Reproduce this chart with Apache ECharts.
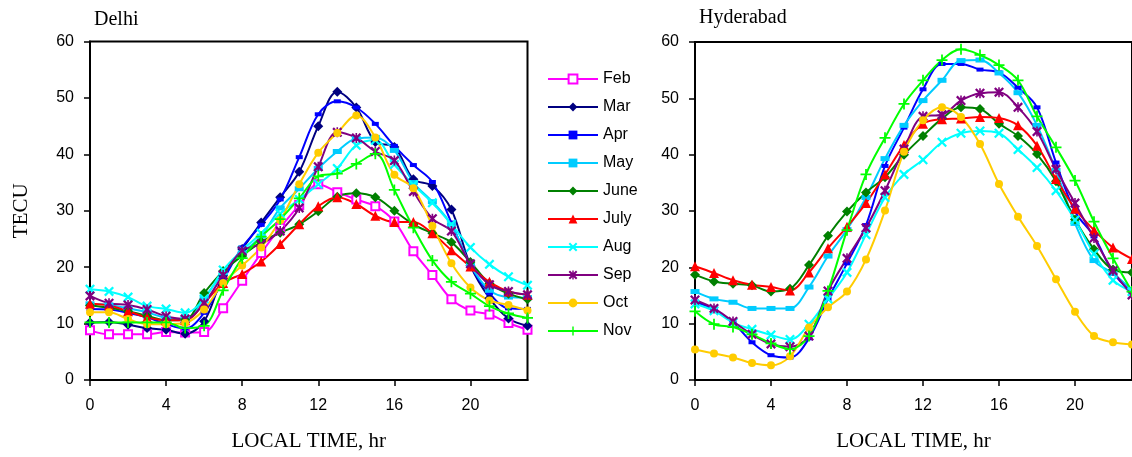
<!DOCTYPE html>
<html><head><meta charset="utf-8">
<script src="https://cdn.jsdelivr.net/npm/echarts@6/dist/echarts.min.js"></script>
<style>html,body{margin:0;padding:0;background:#fff}#c{width:1132px;height:457px}</style>
</head><body><div id="c"></div>
<script>
const hours = [0,1,2,3,4,5,6,7,8,9,10,11,12,13,14,15,16,17,18,19,20,21,22,23];
const months = ['Feb','Mar','Apr','May','June','July','Aug','Sep','Oct','Nov'];
const yTicks = [0,10,20,30,40,50,60];
const xTicks = [0,4,8,12,16,20];

// Delhi (TECU by local hour)
const delhiFeb  = [8.8,8.1,8.1,8.1,8.5,8.4,8.5,12.7,17.6,22.5,27.0,31.0,34.7,33.3,32.0,30.8,28.1,22.8,18.6,14.3,12.3,11.6,10.1,8.9];
const delhiMar  = [10.2,10.3,9.8,9.2,8.9,8.2,10.4,18.5,23.2,27.9,32.4,36.9,45.0,51.1,48.3,42.2,41.3,35.6,34.4,30.2,20.3,14.5,10.9,9.6];
const delhiApr  = [12.6,12.5,11.9,11.1,9.9,9.1,11.9,17.7,23.5,27.5,32.0,39.5,47.1,49.4,48.3,45.4,41.5,38.1,35.1,27.9,20.3,15.4,12.7,12.6];
const delhiMay  = [13.5,13.3,12.7,12.0,11.0,10.8,14.5,19.0,22.5,25.5,30.5,33.9,37.5,40.5,42.8,43.0,40.7,35.0,31.6,27.5,20.4,15.9,14.7,14.6];
const delhiJune = [13.2,12.8,12.2,11.4,10.6,10.7,15.4,19.3,22.0,24.5,26.1,27.6,29.9,32.5,33.1,32.4,30.0,27.6,26.0,24.4,20.9,17.1,15.3,14.3];
const delhiJuly = [13.5,13.2,12.2,11.1,10.6,10.6,13.6,17.2,18.8,21.0,24.1,27.6,30.8,32.4,31.2,29.1,28.0,28.0,26.0,23.0,20.1,17.4,15.7,15.1];
const delhiAug  = [16.1,15.7,14.7,13.1,12.6,11.9,14.4,19.5,23.0,26.0,29.5,32.0,34.7,37.5,41.6,42.5,38.2,34.6,31.4,27.6,23.5,20.5,18.3,16.8];
const delhiSep  = [14.9,13.6,13.3,12.5,11.3,10.8,13.6,18.6,22.9,24.1,26.4,30.5,37.8,43.9,42.9,40.5,38.9,33.4,28.6,26.4,20.6,16.9,15.7,15.1];
const delhiOct  = [12.0,12.0,10.8,9.9,9.9,10.1,12.5,17.2,20.3,23.5,28.3,34.7,40.3,43.8,46.9,43.0,36.4,34.0,27.3,20.7,16.4,14.1,13.3,12.3];
const delhiNov  = [10.2,10.2,10.2,10.2,10.2,9.2,9.6,15.9,21.6,25.4,28.5,32.2,36.1,36.6,38.3,40.1,33.7,27.0,21.2,17.4,15.3,13.1,11.8,11.0];

// Hyderabad (TECU by local hour)
const hydApr  = [13.9,12.5,10.2,6.7,4.4,4.0,7.4,14.4,20.7,27.5,38.0,44.8,51.6,56.1,56.1,55.1,54.6,51.9,48.4,38.6,29.9,25.5,19.1,15.5];
const hydMay  = [15.7,14.4,13.8,12.7,12.7,12.7,16.5,22.0,26.7,32.4,39.3,45.2,49.6,53.2,56.7,56.8,54.5,51.0,45.2,37.2,27.8,21.2,18.9,16.0];
const hydJune = [18.7,17.5,17.1,16.8,15.7,16.2,20.4,25.6,29.9,33.3,36.0,40.0,43.3,46.4,48.4,48.1,45.5,43.3,40.1,35.3,28.5,23.2,19.6,19.1];
const hydJuly = [20.2,19.0,17.7,16.9,16.5,15.9,19.1,23.4,27.2,31.4,36.5,41.7,45.5,46.3,46.4,46.7,46.5,45.2,41.6,35.7,30.4,26.6,23.5,21.5];
const hydAug  = [13.5,12.3,10.2,9.0,8.0,7.2,9.9,14.4,19.1,25.8,32.4,36.5,39.1,42.2,43.8,44.2,43.8,40.9,37.7,33.6,28.4,22.4,17.7,15.7];
const hydSep  = [14.2,12.7,10.4,8.1,6.4,5.9,7.8,15.8,21.6,27.0,33.6,41.0,46.8,47.1,49.6,50.9,51.1,48.4,44.1,37.4,31.4,25.2,19.4,15.1];
const hydOct  = [5.4,4.7,4.0,3.0,2.6,4.2,9.3,12.9,15.7,21.4,30.1,40.5,46.1,48.4,46.7,41.9,34.8,29.0,23.8,17.9,12.1,7.8,6.7,6.3];
const hydNov  = [12.2,9.9,9.4,8.1,6.5,5.5,7.8,15.8,26.6,36.5,43.0,49.0,53.2,56.8,58.7,57.7,55.9,53.2,46.8,41.3,35.4,28.1,21.6,15.7];

const delhiSeries = {Feb:delhiFeb, Mar:delhiMar, Apr:delhiApr, May:delhiMay, June:delhiJune, July:delhiJuly, Aug:delhiAug, Sep:delhiSep, Oct:delhiOct, Nov:delhiNov};
const hydSeries = {Apr:hydApr, May:hydMay, June:hydJune, July:hydJuly, Aug:hydAug, Sep:hydSep, Oct:hydOct, Nov:hydNov};

const X_PATH = 'path://M1.6,0 L5,3.4 L8.4,0 L10,1.6 L6.6,5 L10,8.4 L8.4,10 L5,6.6 L1.6,10 L0,8.4 L3.4,5 L0,1.6 Z';
const STAR_PATH = 'path://M1.6,0 L5,3.4 L8.4,0 L10,1.6 L6.6,5 L10,8.4 L8.4,10 L5,6.6 L1.6,10 L0,8.4 L3.4,5 L0,1.6 Z M4.2,0 L5.8,0 L5.8,10 L4.2,10 Z';
const PLUS_PATH = 'path://M4.2,0 L5.8,0 L5.8,4.2 L10,4.2 L10,5.8 L5.8,5.8 L5.8,10 L4.2,10 L4.2,5.8 L0,5.8 L0,4.2 L4.2,4.2 Z';

const styles = {
  Feb:  {color:'#FF00FF', symbol:'emptyRect', size:8},
  Mar:  {color:'#000080', symbol:'diamond', size:10},
  Apr:  {color:'#0000FF', symbol:'rect', size:[7,4]},
  May:  {color:'#00CCFF', symbol:'rect', size:[9,5]},
  June: {color:'#008000', symbol:'diamond', size:10},
  July: {color:'#FF0000', symbol:'triangle', size:10},
  Aug:  {color:'#00FFFF', symbol:X_PATH, size:10},
  Sep:  {color:'#800080', symbol:STAR_PATH, size:10},
  Oct:  {color:'#FFCC00', symbol:'circle', size:8},
  Nov:  {color:'#00FF00', symbol:PLUS_PATH, size:11}
};

function mk(name, vals, gi) {
  const s = styles[name];
  return {
    name: name, type: 'line', xAxisIndex: gi, yAxisIndex: gi,
    data: hours.map((h, i) => [h, vals[i]]),
    smooth: 0.35, symbol: s.symbol, symbolSize: s.size, showAllSymbol: true,
    lineStyle: {color: s.color, width: 2},
    itemStyle: {color: s.color, borderWidth: s.symbol === 'emptyRect' ? 1.5 : 0},
    emphasis: {disabled: true}, animation: false
  };
}

const series = [];
months.forEach(m => { if (delhiSeries[m]) series.push(mk(m, delhiSeries[m], 0)); });
months.forEach(m => { if (hydSeries[m]) series.push(mk(m, hydSeries[m], 1)); });

const serif = 'Liberation Serif, Times New Roman, serif';
const sans = 'Liberation Sans, Arial, sans-serif';

function xAx(gi) {
  return {
    gridIndex: gi, type: 'value', min: 0, max: 23, interval: 4,
    axisLine: {lineStyle: {color: '#000', width: 2}},
    axisTick: {length: 6, lineStyle: {color: '#000', width: 1.5}},
    axisLabel: {showMaxLabel: false, color: '#000', fontSize: 16, fontFamily: sans, margin: 18,
      formatter: v => (xTicks.indexOf(v) >= 0 ? String(v) : '')},
    splitLine: {show: false},
    name: 'LOCAL TIME, hr', nameLocation: 'middle', nameGap: 51,
    nameTextStyle: {fontFamily: serif, fontSize: 21, color: '#000'}
  };
}
function yAx(gi, withName) {
  const a = {
    gridIndex: gi, type: 'value', min: 0, max: 60, interval: 10,
    axisLine: {show: true, lineStyle: {color: '#000', width: 2}},
    axisTick: {show: true, length: 6, lineStyle: {color: '#000', width: 1.5}},
    axisLabel: {color: '#000', fontSize: 16, fontFamily: sans, margin: 16,
      formatter: v => (yTicks.indexOf(v) >= 0 ? String(v) : '')},
    splitLine: {show: false}
  };
  if (withName) {
    a.name = 'TECU'; a.nameLocation = 'middle'; a.nameGap = 58;
    a.nameTextStyle = {fontFamily: serif, fontSize: 21, color: '#000'};
  }
  return a;
}

const chart = echarts.init(document.getElementById('c'), null, {renderer: 'canvas'});
chart.setOption({
  backgroundColor: '#fff',
  animation: false,
  title: [
    {text: 'Delhi', left: 94, top: 10, padding: 0, textStyle: {fontFamily: serif, fontSize: 20, fontWeight: 'normal', color: '#000'}},
    {text: 'Hyderabad', left: 699, top: 8, padding: 0, textStyle: {fontFamily: serif, fontSize: 20, fontWeight: 'normal', color: '#000'}}
  ],
  legend: {
    data: months, orient: 'vertical', left: 547, top: 71, padding: 0,
    itemWidth: 50, itemHeight: 11, itemGap: 12,
    textStyle: {fontFamily: sans, fontSize: 16, color: '#000'},
    selectedMode: false
  },
  grid: [
    {left: 90, top: 41.5, width: 437.5, height: 343, show: true, borderColor: '#000', borderWidth: 2, containLabel: false},
    {left: 695, top: 42, width: 439.3, height: 344.7, show: true, borderColor: '#000', borderWidth: 2, containLabel: false}
  ],
  xAxis: [xAx(0), xAx(1)],
  yAxis: [yAx(0, true), yAx(1, false)],
  series: series
});
</script>
</body></html>
